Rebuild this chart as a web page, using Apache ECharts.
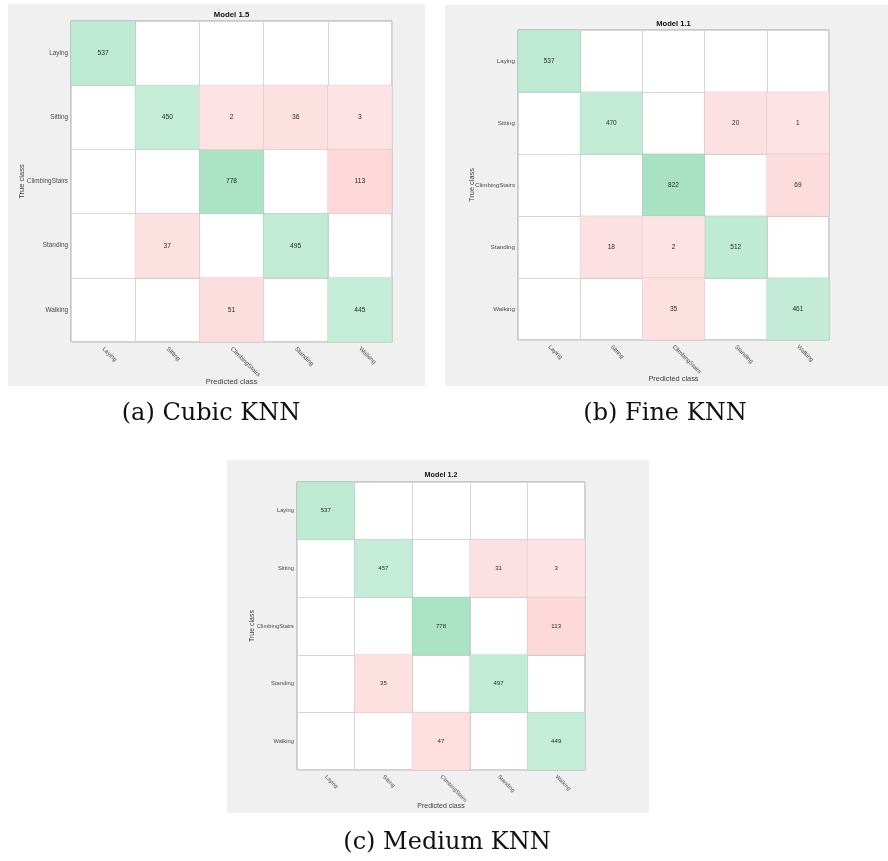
<!DOCTYPE html>
<html>
<head>
<meta charset="utf-8">
<title>KNN confusion matrices</title>
<script src="https://cdn.jsdelivr.net/npm/echarts@6/dist/echarts.min.js"></script>
<style>
  html, body { margin: 0; padding: 0; background: #ffffff; }
  #chart { width: 888px; height: 861px; }
</style>
</head>
<body>
<div id="chart"></div>
<script>
// Activity classes (rows = true class, columns = predicted class)
const classes = ['Laying', 'Sitting', 'ClimbingStairs', 'Standing', 'Walking'];

// Confusion matrices, zeros are left blank
const cubicKnn = [
  [537, 0, 0, 0, 0],
  [0, 450, 2, 36, 3],
  [0, 0, 778, 0, 113],
  [0, 37, 0, 495, 0],
  [0, 0, 51, 0, 445]
];
const fineKnn = [
  [537, 0, 0, 0, 0],
  [0, 470, 0, 20, 1],
  [0, 0, 822, 0, 69],
  [0, 18, 2, 512, 0],
  [0, 0, 35, 0, 461]
];
const mediumKnn = [
  [537, 0, 0, 0, 0],
  [0, 457, 0, 31, 3],
  [0, 0, 778, 0, 113],
  [0, 35, 0, 497, 0],
  [0, 0, 47, 0, 449]
];

const modelTitles = ['Model 1.5', 'Model 1.1', 'Model 1.2'];
const captions = ['(a) Cubic KNN', '(b) Fine KNN', '(c) Medium KNN'];
const matrices = [cubicKnn, fineKnn, mediumKnn];

// Panel layout: grey figure frame, plot square, caption position, font size
const panels = [
  { frame: [8, 4, 417, 382], grid: [71, 21, 321, 321], cap: [211, 413], fs: 7.2, xGap: 36, yGap: 45 },
  { frame: [445, 5, 443, 381], grid: [518, 30, 311, 310], cap: [665, 413], fs: 7, xGap: 35, yGap: 43 },
  { frame: [227, 460, 422, 353], grid: [297, 482, 288, 288], cap: [447, 842], fs: 6.6, xGap: 33, yGap: 41 }
];

const FONT = 'Liberation Sans, Arial, sans-serif';

const grids = [], xAxes = [], yAxes = [], series = [], titles = [], frames = [];
const diagSeries = [], offSeries = [];

panels.forEach((p, i) => {
  const [gl, gt, gw, gh] = p.grid;
  frames.push({
    type: 'rect', silent: true, z: -10,
    shape: { x: p.frame[0], y: p.frame[1], width: p.frame[2], height: p.frame[3] },
    style: { fill: '#f0f0f0' }
  });
  grids.push({
    left: gl, top: gt, width: gw, height: gh,
    show: true, backgroundColor: '#ffffff', borderColor: '#a3a3a3', borderWidth: 1
  });
  xAxes.push({
    type: 'category', gridIndex: i, data: classes, position: 'bottom',
    name: 'Predicted class', nameLocation: 'middle', nameGap: p.xGap, nameMoveOverlap: false,
    nameTextStyle: { fontFamily: FONT, fontSize: p.fs + 0.4, color: '#3c3c3c' },
    axisLine: { show: false }, axisTick: { show: false },
    axisLabel: { rotate: -45, interval: 0, margin: 6, fontFamily: FONT, fontSize: p.fs - 1.1, color: '#4a4a4a' },
    splitLine: { show: true, interval: 0, lineStyle: { color: '#d6d6d6', width: 1 } }
  });
  yAxes.push({
    type: 'category', gridIndex: i, data: classes, inverse: true,
    name: 'True class', nameLocation: 'middle', nameGap: p.yGap, nameMoveOverlap: false,
    nameTextStyle: { fontFamily: FONT, fontSize: p.fs + 0.4, color: '#3c3c3c' },
    axisLine: { show: false }, axisTick: { show: false },
    axisLabel: { margin: 3, fontFamily: FONT, fontSize: p.fs - 0.8, color: '#4a4a4a' },
    splitLine: { show: true, interval: 0, lineStyle: { color: '#d6d6d6', width: 1 } }
  });

  const diag = [], off = [];
  matrices[i].forEach((row, r) => {
    row.forEach((v, c) => {
      if (v === 0) return;
      (r === c ? diag : off).push([c, r, v]);
    });
  });
  const cellStyle = {
    label: { show: true, fontFamily: FONT, fontSize: p.fs - 0.5, color: '#2b2b2b' },
    itemStyle: { borderColor: 'rgba(0,0,0,0.06)', borderWidth: 1 },
    emphasis: { disabled: true }
  };
  diagSeries.push(series.length);
  series.push(Object.assign({ type: 'heatmap', name: modelTitles[i] + ' correct', xAxisIndex: i, yAxisIndex: i, data: diag }, cellStyle));
  offSeries.push(series.length);
  series.push(Object.assign({ type: 'heatmap', name: modelTitles[i] + ' wrong', xAxisIndex: i, yAxisIndex: i, data: off }, cellStyle));

  titles.push({
    text: modelTitles[i], left: gl + gw / 2, top: gt - 10, textAlign: 'center', padding: 0,
    textStyle: { fontFamily: FONT, fontSize: p.fs + 0.6, fontWeight: 'bold', color: '#111111' }
  });
  titles.push({
    text: captions[i], left: p.cap[0], top: p.cap[1] - 11, textAlign: 'center', padding: 0,
    textStyle: { fontFamily: 'DejaVu Serif, serif', fontSize: 24, fontWeight: 'normal', color: '#111111' }
  });
});

const chart = echarts.init(document.getElementById('chart'), null, { renderer: 'canvas' });
chart.setOption({
  animation: false,
  backgroundColor: '#ffffff',
  title: titles,
  graphic: { elements: frames },
  grid: grids,
  xAxis: xAxes,
  yAxis: yAxes,
  visualMap: [
    {
      type: 'continuous', show: false, seriesIndex: diagSeries, dimension: 2,
      min: 440, max: 830, inRange: { color: ['#c5ecd8', '#a7e2c2'] }
    },
    {
      type: 'continuous', show: false, seriesIndex: offSeries, dimension: 2,
      min: 1, max: 115, inRange: { color: ['#fde3e4', '#fcd8d8'] }
    }
  ],
  series: series
});
</script>
</body>
</html>
